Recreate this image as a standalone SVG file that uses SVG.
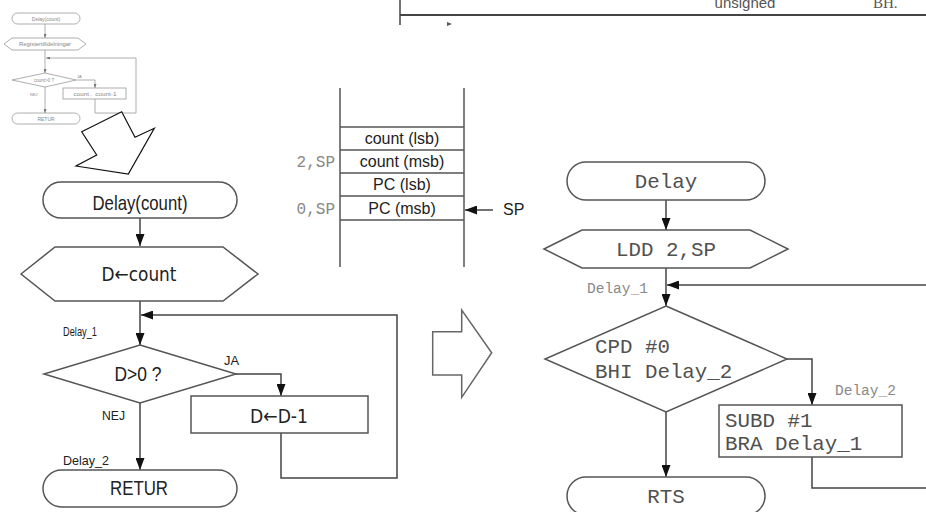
<svg xmlns="http://www.w3.org/2000/svg" width="926" height="512" viewBox="0 0 926 512">
<style>
.sh{fill:#fff;stroke:#555;stroke-width:1.5}
.ln{fill:none;stroke:#444;stroke-width:1.5}
.ms{fill:#fff;stroke:#999;stroke-width:0.8}
.ml{fill:none;stroke:#999;stroke-width:0.8}
.t{font-family:"Liberation Sans",Arial,sans-serif;fill:#222}
.big{font-size:21px;text-anchor:middle}
.dv{font-family:"DejaVu Sans","Liberation Sans",sans-serif;fill:#222;font-size:20px;text-anchor:middle}
.sm{font-size:13px}
.stk{font-size:16px;text-anchor:middle}
.mono{font-family:"Liberation Mono","Courier New",monospace;fill:#505050}
.mb{font-size:20.8px}
.lab{font-size:14.5px;fill:#888}
.mt{font-family:"Liberation Sans",Arial,sans-serif;fill:#888;font-size:5px;text-anchor:middle}
</style>
<defs>
<marker id="ah" markerUnits="userSpaceOnUse" markerWidth="12" markerHeight="9" refX="12" refY="4.5" orient="auto">
<path d="M0,0 L12,4.5 L0,9 z" fill="#111"/>
</marker>
<marker id="am" markerUnits="userSpaceOnUse" markerWidth="4" markerHeight="3" refX="4" refY="1.5" orient="auto">
<path d="M0,0 L4,1.5 L0,3 z" fill="#777"/>
</marker>
</defs>
<rect width="926" height="512" fill="#fff"/>

<g id="table-fragment">
<line x1="400" y1="0" x2="400" y2="25" stroke="#444" stroke-width="1.5"/>
<line x1="400" y1="15" x2="926" y2="15" stroke="#444" stroke-width="2"/>
<text x="745" y="8" class="t" style="font-size:15px;fill:#555;text-anchor:middle">unsigned</text>
<text x="873" y="8" style="font-family:'Liberation Serif',serif;font-size:15px;fill:#555">BH.</text>
<path d="M447,22 L452,24 L447,26 z" fill="#555"/>
</g>

<g id="mini-flowchart">
<rect x="12" y="13" width="68" height="11" rx="5.5" class="ms"/>
<text x="46" y="20.5" class="mt">Delay(count)</text>
<polygon points="4,44 12,38 78,38 86,44 78,50 12,50" class="ms"/>
<text x="45" y="46" class="mt" textLength="52" lengthAdjust="spacingAndGlyphs">Registertilldelningar</text>
<polygon points="45,73 76,80 45,87 12,80" class="ms"/>
<text x="44" y="82" class="mt" style="font-size:4.5px">count&gt;0 ?</text>
<rect x="63" y="88" width="63" height="11" class="ms"/>
<text x="95" y="95.5" class="mt" style="font-size:4.5px" textLength="43" lengthAdjust="spacingAndGlyphs">count←count-1</text>
<rect x="12" y="113" width="68" height="11" rx="5.5" class="ms"/>
<text x="46" y="120.5" class="mt">RETUR</text>
<text x="77" y="78" class="mt" style="font-size:4px;text-anchor:start">JA</text>
<text x="30" y="96" class="mt" style="font-size:4px;text-anchor:start">NEJ</text>
<path d="M45,24 V38" class="ml" marker-end="url(#am)"/>
<path d="M45,50 V73" class="ml" marker-end="url(#am)"/>
<path d="M95,99 V113 H136 V58 H46" class="ml" marker-end="url(#am)"/>
<path d="M76,80 H95 V88" class="ml" marker-end="url(#am)"/>
<path d="M45,87 V113" class="ml" marker-end="url(#am)"/>
</g>

<polygon id="zigzag-arrow" points="81.7,131.7 121.7,111.7 135,137.3 154.3,128.3 128.3,174 76,166 96.7,155" fill="#fff" stroke="#111" stroke-width="1.2"/>

<g id="connectors">
<path d="M140,218 V246" class="ln" marker-end="url(#ah)"/>
<path d="M140,301 V345" class="ln" marker-end="url(#ah)"/>
<path d="M281,433 V478 H397 V315 H141" class="ln" marker-end="url(#ah)"/>
<path d="M236,374 H281 V396" class="ln" marker-end="url(#ah)"/>
<path d="M140,403 V470" class="ln" marker-end="url(#ah)"/>
<path d="M493,210 H465" class="ln" marker-end="url(#ah)"/>
<path d="M666,200 V230" class="ln" marker-end="url(#ah)"/>
<path d="M666,268 V306" class="ln" marker-end="url(#ah)"/>
<path d="M926,285 H667" class="ln" marker-end="url(#ah)"/>
<path d="M787,359 H812 V405" class="ln" marker-end="url(#ah)"/>
<path d="M812,457 V488 H926" class="ln"/>
<path d="M666,412 V477" class="ln" marker-end="url(#ah)"/>
</g>

<g id="start">
<rect x="43" y="182" width="194" height="36" rx="18" class="sh"/>
<text x="140" y="210" class="t big" textLength="95" lengthAdjust="spacingAndGlyphs">Delay(count)</text>
</g>
<g id="assign">
<polygon points="21,274 55,247 223,247 258,274 223,301 55,301" class="sh"/>
<text x="139" y="281" class="dv" textLength="75" lengthAdjust="spacingAndGlyphs">D←count</text>
</g>
<g id="decision">
<polygon points="140,345 236,374 140,403 44,374" class="sh"/>
<text x="138" y="381" class="t big" textLength="47" lengthAdjust="spacingAndGlyphs">D&gt;0 ?</text>
</g>
<g id="decrement">
<rect x="191" y="396" width="177" height="37" class="sh"/>
<text x="279" y="423" class="dv" textLength="58" lengthAdjust="spacingAndGlyphs">D←D-1</text>
</g>
<g id="retur">
<rect x="43" y="470" width="194" height="37" rx="18.5" class="sh"/>
<text x="139" y="495" class="t big" textLength="58" lengthAdjust="spacingAndGlyphs">RETUR</text>
</g>
<g id="left-labels">
<text x="63" y="336" class="t sm" textLength="34" lengthAdjust="spacingAndGlyphs">Delay_1</text>
<text x="224" y="365" class="t sm" textLength="15" lengthAdjust="spacingAndGlyphs">JA</text>
<text x="102" y="420" class="t sm" textLength="23" lengthAdjust="spacingAndGlyphs">NEJ</text>
<text x="63" y="465" class="t sm" textLength="46" lengthAdjust="spacingAndGlyphs">Delay_2</text>
</g>

<g id="stack">
<line x1="340" y1="88" x2="340" y2="267" stroke="#555" stroke-width="1.5"/>
<line x1="464" y1="88" x2="464" y2="267" stroke="#555" stroke-width="1.5"/>
<line x1="340" y1="127" x2="464" y2="127" stroke="#555" stroke-width="1.5"/>
<line x1="340" y1="150" x2="464" y2="150" stroke="#555" stroke-width="1.5"/>
<line x1="340" y1="173" x2="464" y2="173" stroke="#555" stroke-width="1.5"/>
<line x1="340" y1="196" x2="464" y2="196" stroke="#555" stroke-width="1.5"/>
<line x1="340" y1="220" x2="464" y2="220" stroke="#555" stroke-width="1.5"/>
<text x="402" y="144" class="t stk">count (lsb)</text>
<text x="402" y="167" class="t stk">count (msb)</text>
<text x="402" y="190" class="t stk">PC (lsb)</text>
<text x="402" y="214" class="t stk">PC (msb)</text>
<text x="335" y="167" class="mono" style="font-size:16px;fill:#888;text-anchor:end">2,SP</text>
<text x="335" y="214" class="mono" style="font-size:16px;fill:#888;text-anchor:end">0,SP</text>
<text x="503" y="215" class="t" style="font-size:16px">SP</text>
</g>

<polygon id="right-arrow" points="432.7,331.7 461.7,331.7 461.7,310 491.7,352.7 461.7,397.3 461.7,375 432.7,375" fill="#fff" stroke="#666" stroke-width="1.5"/>

<g id="r-start">
<rect x="567" y="162" width="198" height="38" rx="19" class="sh"/>
<text x="666" y="188" class="mono mb" text-anchor="middle">Delay</text>
</g>
<g id="r-load">
<polygon points="544,249 582,230 750,230 788,249 750,268 582,268" class="sh"/>
<text x="666" y="256" class="mono mb" text-anchor="middle">LDD 2,SP</text>
</g>
<g id="r-decision">
<polygon points="666,306 787,359 666,412 545,359" class="sh"/>
<text x="595" y="353" class="mono mb">CPD #0</text>
<text x="595" y="378" class="mono mb">BHI Delay_2</text>
</g>
<g id="r-sub">
<rect x="719" y="405" width="183" height="52" class="sh"/>
<text x="725" y="427" class="mono mb">SUBD #1</text>
<text x="725" y="450" class="mono mb">BRA Delay_1</text>
</g>
<g id="r-rts">
<rect x="567" y="477" width="198" height="38" rx="19" class="sh"/>
<text x="666" y="503" class="mono mb" text-anchor="middle">RTS</text>
</g>
<g id="right-labels">
<text x="587" y="293" class="mono lab">Delay_1</text>
<text x="835" y="395" class="mono lab">Delay_2</text>
</g>
</svg>
